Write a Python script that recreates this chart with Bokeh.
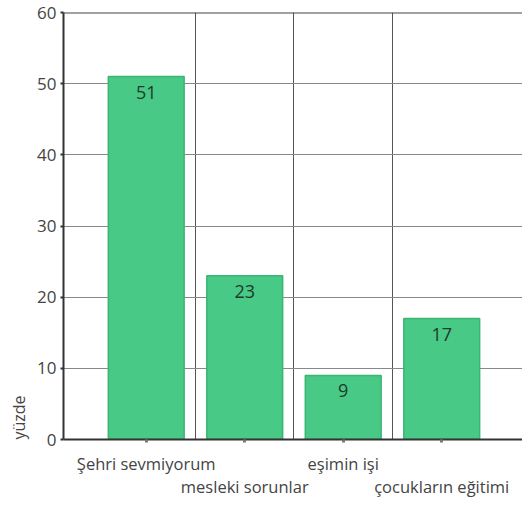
from bokeh.plotting import figure
from bokeh.models import FixedTicker, Span, Title, ColumnDataSource, Range1d
from bokeh.core.properties import value
from bokeh.embed import file_html
from bokeh.resources import INLINE

categories = ["Şehri sevmiyorum", "mesleki sorunlar", "eşimin işi", "çocukların eğitimi"]
values = [51, 23, 9, 17]
positions = [1, 2, 3, 4]
y_ticks = [0, 10, 20, 30, 40, 50, 60]

FONT = "Open Sans"
src = ColumnDataSource(dict(x=positions, top=values, label=[str(v) for v in values]))

p = figure(width=522, height=500, output_backend="svg", toolbar_location=None,
           x_range=Range1d(0.16, 4.82), y_range=Range1d(0, 60),
           min_border_left=56, min_border_right=0, min_border_top=12, min_border_bottom=50)
p.outline_line_color = None

p.vbar(x="x", top="top", width=0.77, source=src, fill_color="#48c985",
       line_color="#3bb574", line_width=1.5)
p.text(x="x", y="top", text="label", source=src, text_align="center",
       text_baseline="top", y_offset=9, text_font=value(FONT),
       text_font_size="18px", text_color="#1e3a2c")

# y axis
p.yaxis.ticker = FixedTicker(ticks=y_ticks)
p.yaxis.axis_line_color = "#333333"
p.yaxis.axis_line_width = 2
p.yaxis.major_tick_in = 0
p.yaxis.major_tick_out = 3
p.yaxis.major_tick_line_color = "#333333"
p.yaxis.major_tick_line_width = 2
p.yaxis.minor_tick_line_color = None
p.yaxis.major_label_standoff = 4
p.yaxis.major_label_text_font = FONT
p.yaxis.major_label_text_font_size = "17px"
p.yaxis.major_label_text_color = "#444444"

# x axis
p.xaxis.ticker = FixedTicker(ticks=positions)
overrides = {}
for i, (pos, cat) in enumerate(zip(positions, categories)):
    overrides[pos] = cat if i % 2 == 0 else "\n" + cat
p.xaxis.major_label_overrides = overrides
p.xaxis.axis_line_color = "#333333"
p.xaxis.axis_line_width = 2
p.xaxis.major_tick_in = 0
p.xaxis.major_tick_out = 3
p.xaxis.major_tick_line_color = "#777777"
p.xaxis.major_tick_line_width = 3
p.xaxis.minor_tick_line_color = None
p.xaxis.major_label_standoff = 9
p.xaxis.major_label_text_font = FONT
p.xaxis.major_label_text_font_size = "16.5px"
p.xaxis.major_label_text_color = "#444444"
p.xaxis.major_label_text_line_height = 1.0

# grids
p.ygrid.ticker = FixedTicker(ticks=[10, 20, 30, 40, 50])
p.ygrid.grid_line_color = "#888888"
p.ygrid.grid_line_width = 1
p.xgrid.ticker = FixedTicker(ticks=[1.5, 2.5, 3.5])
p.xgrid.grid_line_color = "#555555"
p.xgrid.grid_line_width = 1
p.ygrid.level = "underlay"

p.add_layout(Span(location=60, dimension="width", line_color="#444444", line_width=2))

p.add_layout(Title(text="yüzde", align="left", text_font=FONT, text_font_size="16px",
                   text_font_style="normal", text_color="#444444"), "left")

p.background_fill_color = "white"
p.border_fill_color = "white"

open("out.html", "w").write(file_html(p, INLINE))
